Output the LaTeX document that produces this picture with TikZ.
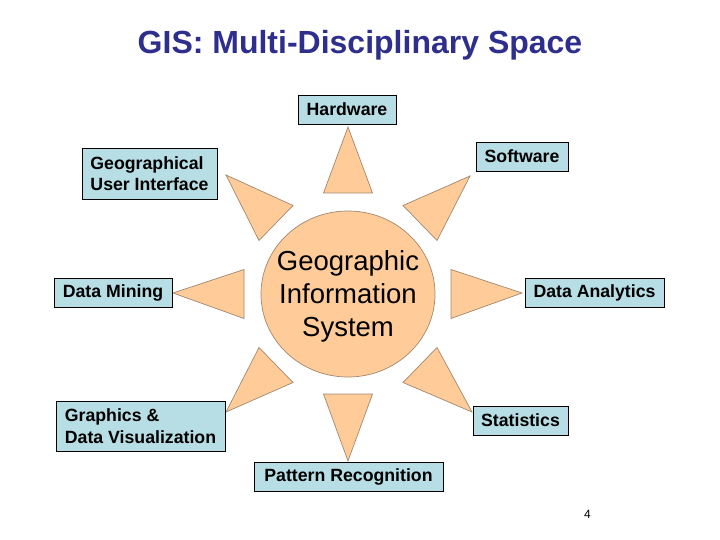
\documentclass[tikz,border=0pt]{standalone}
\usepackage{fontspec}
\setmainfont{Liberation Sans}
\usetikzlibrary{shapes.geometric}
\definecolor{boxfill}{RGB}{183,222,228}
\definecolor{sunfill}{RGB}{255,204,153}
\definecolor{sunline}{RGB}{160,135,110}
\definecolor{titleblue}{RGB}{46,46,140}
\begin{document}
\begin{tikzpicture}[x=1pt,y=-1pt,
  discbox/.style={draw=black, line width=0.8pt, fill=boxfill, inner sep=0pt,
    font=\fontsize{17.7}{21.5}\selectfont\bfseries},
  ray/.style={draw=sunline, line width=0.7pt, fill=sunfill, line join=miter},
  titletext/.style={font=\fontsize{32}{38}\selectfont\bfseries, text=titleblue},
]
\useasboundingbox (0,0) rectangle (720,540);

\node[titletext, anchor=base] (title) at (360,54) {GIS: Multi-Disciplinary Space};

% rays
\path[ray] (348,127) -- (323.5,193) -- (372.5,193) -- cycle;
\path[ray] (348,461) -- (323.5,394) -- (372.5,394) -- cycle;
\path[ray] (173,293) -- (244,269.5) -- (244,318.5) -- cycle;
\path[ray] (522,293) -- (451,269.5) -- (451,318.5) -- cycle;
\path[ray] (226,175) -- (293,205.5) -- (259,240.5) -- cycle;
\path[ray] (470,176) -- (437,240.5) -- (403,205.5) -- cycle;
\path[ray] (226,412) -- (259,347.5) -- (293,382.5) -- cycle;
\path[ray] (472,412) -- (437,347.5) -- (403,382.5) -- cycle;

% centre
\node[ray, ellipse, minimum width=174pt, minimum height=166pt, inner sep=0pt] (gis) at (348,294) {};
\node[align=center, font=\fontsize{27.5}{33}\selectfont, yshift=-2.5pt] (gistext) at (gis.center)
  {Geographic\\Information\\System};

% boxes
\node[discbox, minimum width=98pt, minimum height=29pt] (hw) at (347,109.5) {Hardware};
\node[discbox, minimum width=92pt, minimum height=29pt] (sw) at (522,156.5) {Software};
\node[discbox, minimum width=135pt, minimum height=51pt, align=left] (gui) at (149.5,173.5) {Geographical\\User Interface};
\node[discbox, minimum width=118pt, minimum height=29pt] (dm) at (113,292.5) {Data Mining};
\node[discbox, minimum width=139pt, minimum height=29pt] (da) at (594.5,292.5) {Data Analytics};
\node[discbox, minimum width=169pt, minimum height=50pt, align=left] (gv) at (140.5,426) {Graphics \&\\Data Visualization};
\node[discbox, minimum width=95pt, minimum height=29pt] (st) at (520.5,420.5) {Statistics};
\node[discbox, minimum width=189pt, minimum height=29pt] (pr) at (348.5,476.5) {Pattern Recognition};

\node[font=\fontsize{12}{14}\selectfont, anchor=base] (pg) at (587.5,518) {4};
\end{tikzpicture}
\end{document}
